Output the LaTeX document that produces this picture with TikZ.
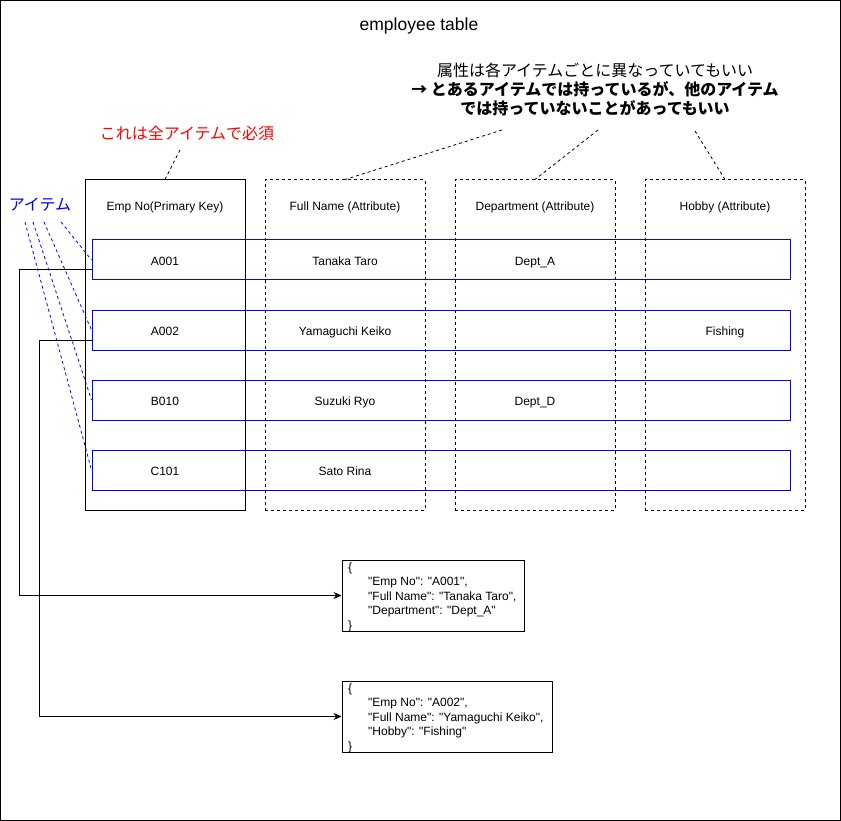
\documentclass[tikz,border=0pt]{standalone}
\usepackage{fontspec}
\setmainfont{Liberation Sans}[Ligatures=TeXOff]
\newfontfamily\cjk{Noto Sans CJK JP}
\usetikzlibrary{arrows.meta}

\begin{document}
\begin{tikzpicture}[x=1pt,y=-1pt,
  frame/.style={draw, line width=0.8pt},
  keycol/.style={draw, line width=1pt, minimum width=160pt, minimum height=330pt, inner sep=0pt},
  attrcol/.style={keycol, dash pattern=on 3pt off 3pt},
  itemrow/.style={draw=blue, line width=1pt, minimum width=698pt, minimum height=40pt, inner sep=0pt},
  cell/.style={font=\fontsize{12}{14}\selectfont, inner sep=0pt, text height=8.6pt, text depth=0pt},
  json/.style={draw, line width=1pt, inner sep=0pt},
  jsontext/.style={anchor=north west, align=left, inner sep=0pt, font=\fontsize{12}{14.5}\selectfont},
  note/.style={dash pattern=on 3pt off 3pt, line width=0.8pt},
  itemlink/.style={blue, dash pattern=on 3pt off 3pt, line width=0.8pt},
  flow/.style={line width=1pt, -{Stealth[length=8pt,width=7pt,inset=2.5pt]}}
]
\useasboundingbox (0,0) rectangle (841,821);
\draw[frame] (0.5,0.5) rectangle (840.5,820.5);

% title
\node[font=\fontsize{17.5}{20}\selectfont] (title) at (419,26) {employee table};

% columns
\node[keycol]  (c1) at (165,345) {};
\node[attrcol] (c2) at (345,345) {};
\node[attrcol] (c3) at (535,345) {};
\node[attrcol] (c4) at (725,345) {};

\node[cell] (h1) at (165,206) {Emp No(Primary Key)};
\node[cell] (h2) at (345,206) {Full Name (Attribute)};
\node[cell] (h3) at (535,206) {Department (Attribute)};
\node[cell] (h4) at (725,206) {Hobby (Attribute)};

% items
\node[itemrow] (r1) at (441,260) {};
\node[itemrow] (r2) at (441,330) {};
\node[itemrow] (r3) at (441,400) {};
\node[itemrow] (r4) at (441,470) {};

\node[cell] (a1) at (165,261) {A001};
\node[cell] (a2) at (165,331) {A002};
\node[cell] (a3) at (165,401) {B010};
\node[cell] (a4) at (165,471) {C101};
\node[cell] (n1) at (345,261) {Tanaka Taro};
\node[cell] (n2) at (345,331) {Yamaguchi Keiko};
\node[cell] (n3) at (345,401) {Suzuki Ryo};
\node[cell] (n4) at (345,471) {Sato Rina};
\node[cell] (d1) at (535,261) {Dept\_A};
\node[cell] (d3) at (535,401) {Dept\_D};
\node[cell] (b2) at (725,331) {Fishing};

% annotations
\node[text=red, font=\cjk\fontsize{16}{19}\selectfont] (req) at (187,133) {これは全アイテムで必須};
\coordinate (reqend) at (180,150);
\draw[note] (reqend) -- (c1.north);

\node[align=center, font=\cjk\fontsize{16}{19}\selectfont] (attrnote) at (595,89)
  {属性は各アイテムごとに異なっていてもいい\\
   \textbf{→ とあるアイテムでは持っているが、他のアイテム}\\
   \textbf{では持っていないことがあってもいい}};
\coordinate (an2) at (502,130);
\coordinate (an3) at (598,130);
\coordinate (an4) at (695,131);
\draw[note] (an2) -- (c2.north);
\draw[note] (an3) -- (c3.north);
\draw[note] (an4) -- (c4.north);

\node[text=blue, font=\cjk\fontsize{16}{19}\selectfont] (item) at (40,205) {アイテム};
\coordinate (it1) at (61,222);
\coordinate (it2) at (44,222);
\coordinate (it3) at (33,222);
\coordinate (it4) at (25,222);
\draw[itemlink] (it1) -- (r1.west);
\draw[itemlink] (it2) -- (r2.west);
\draw[itemlink] (it3) -- (r3.west);
\draw[itemlink] (it4) -- (r4.west);

% JSON documents
\node[json, minimum width=182pt, minimum height=71pt] (j1) at (433,595.5) {};
\node[jsontext] (j1t) at (348,562.5)
  {\{\\
   \hspace*{20pt}"Emp No": "A001",\\
   \hspace*{20pt}"Full Name": "Tanaka Taro",\\
   \hspace*{20pt}"Department": "Dept\_A"\\
   \}};
\node[json, minimum width=210pt, minimum height=71pt] (j2) at (447,716.5) {};
\node[jsontext] (j2t) at (348,683.5)
  {\{\\
   \hspace*{20pt}"Emp No": "A002",\\
   \hspace*{20pt}"Full Name": "Yamaguchi Keiko",\\
   \hspace*{20pt}"Hobby": "Fishing"\\
   \}};

\draw[flow] ([yshift=-10pt]r1.west) -- ++(-72,0) |- (j1.west);
\draw[flow] ([yshift=-10pt]r2.west) -- ++(-52,0) |- (j2.west);
\end{tikzpicture}
\end{document}
